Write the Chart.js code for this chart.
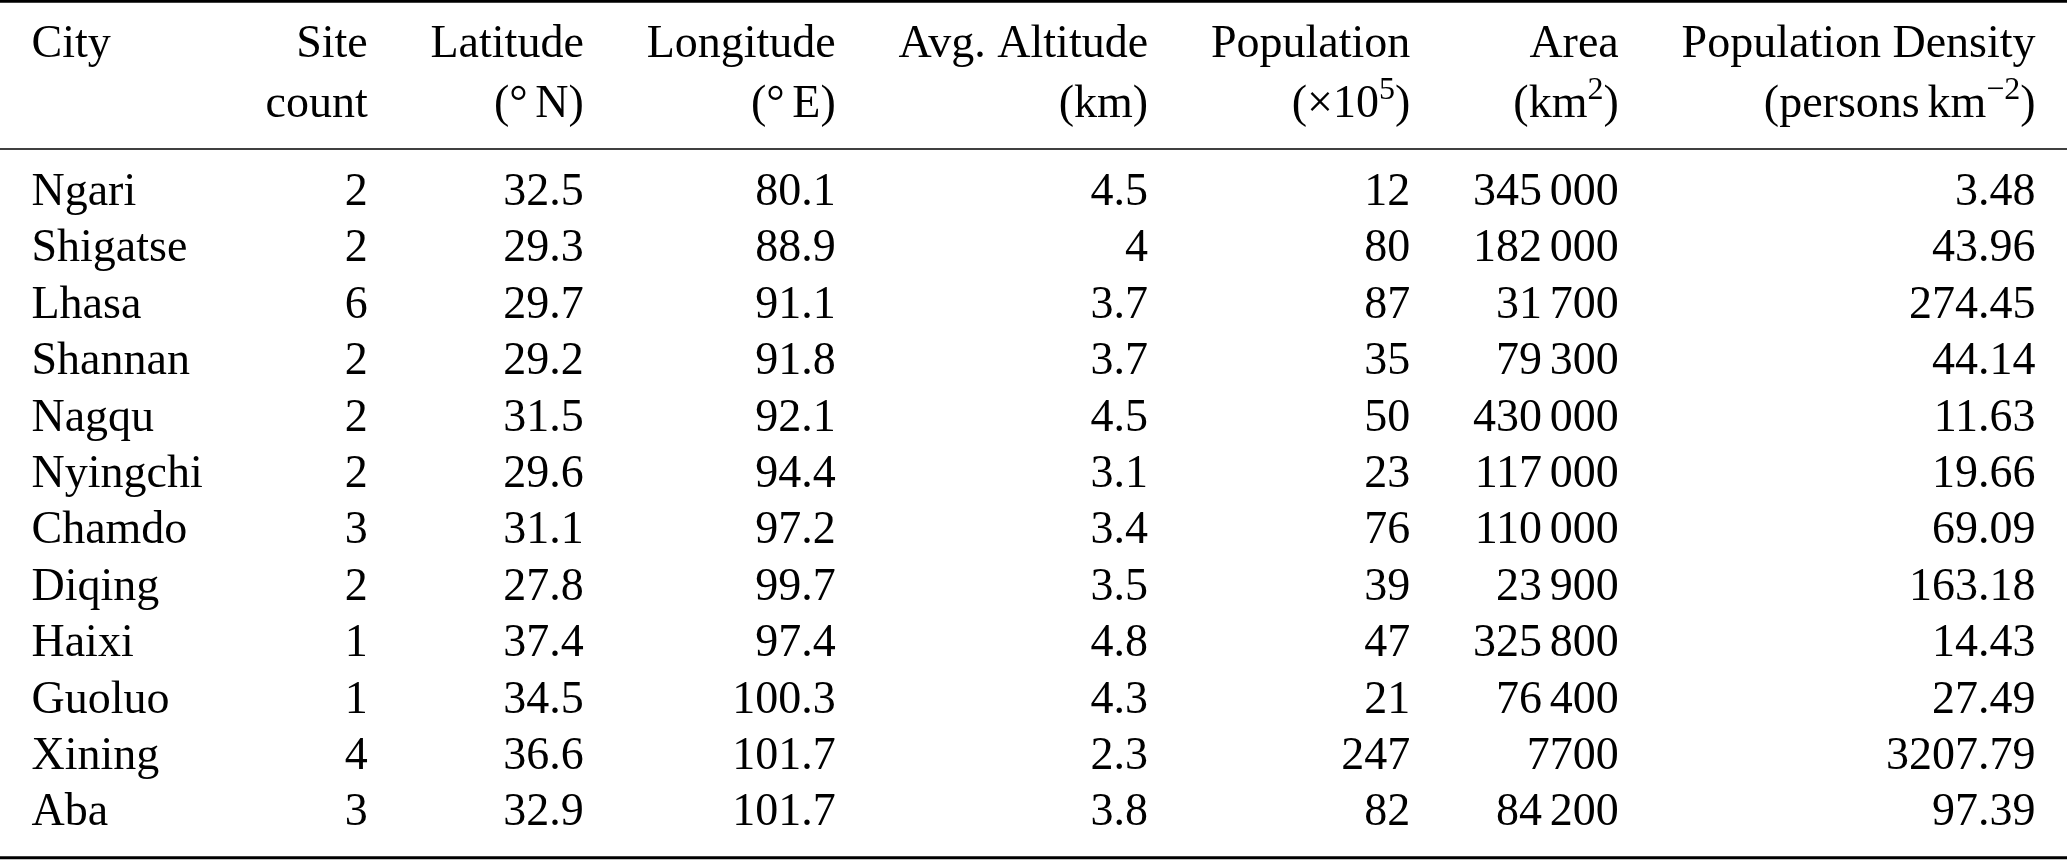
<!DOCTYPE html>
<html>
<head>
<meta charset="utf-8">
<script src="https://cdn.jsdelivr.net/npm/chart.js@4"></script>
<style>
  html, body { margin: 0; background: #fff; }
  #wrap { width: 2067px; height: 860px; position: relative; }
</style>
</head>
<body>
<div id="wrap"><canvas id="table"></canvas></div>
<script>
const cities = ['Ngari', 'Shigatse', 'Lhasa', 'Shannan', 'Nagqu', 'Nyingchi', 'Chamdo', 'Diqing', 'Haixi', 'Guoluo', 'Xining', 'Aba'];
const siteCount = [2, 2, 6, 2, 2, 2, 3, 2, 1, 1, 4, 3];
const latitude = [32.5, 29.3, 29.7, 29.2, 31.5, 29.6, 31.1, 27.8, 37.4, 34.5, 36.6, 32.9];
const longitude = [80.1, 88.9, 91.1, 91.8, 92.1, 94.4, 97.2, 99.7, 97.4, 100.3, 101.7, 101.7];
const altitude = [4.5, 4, 3.7, 3.7, 4.5, 3.1, 3.4, 3.5, 4.8, 4.3, 2.3, 3.8];
const population = [12, 80, 87, 35, 50, 23, 76, 39, 47, 21, 247, 82];
const area = [345000, 182000, 31700, 79300, 430000, 117000, 110000, 23900, 325800, 76400, 7700, 84200];
const density = [3.48, 43.96, 274.45, 44.14, 11.63, 19.66, 69.09, 163.18, 14.43, 27.49, 3207.79, 97.39];

// header lines, ^{..} marks a superscript, \u2009 is a thin space
const headTop = ['City', 'Site', 'Latitude', 'Longitude', 'Avg. Altitude', 'Population', 'Area', 'Population Density'];
const headBottom = ['', 'count', '(°\u2009N)', '(°\u2009E)', '(km)', '(×10^{5})', '(km^{2})', '(persons\u2009km^{\u22122})'];

const fmtArea = v => v >= 10000 ? String(v).replace(/\B(?=(\d{3})+(?!\d))/g, '\u2009') : String(v);
const columns = [
  cities,
  siteCount.map(String),
  latitude.map(String),
  longitude.map(String),
  altitude.map(String),
  population.map(String),
  area.map(fmtArea),
  density.map(v => v.toFixed(2))
];

const FONT_SIZE = 46;
const SUP_SIZE = Math.round(FONT_SIZE * 0.7);
const FAMILY = '"Liberation Serif", "Times New Roman", serif';
const FONT = FONT_SIZE + 'px ' + FAMILY;
const SUP_FONT = SUP_SIZE + 'px ' + FAMILY;

// row units on the y scale: body rows sit on 0..11
const headRows = [-2.624, -1.56];
const rules = [{ y: -3.61, w: 2.6 }, { y: -0.993, w: 1.6 }, { y: 11.575, w: 3 }];

function parseRich(s) {
  const out = [];
  const re = /\^\{([^}]*)\}/g;
  let last = 0, m;
  while ((m = re.exec(s))) {
    if (m.index > last) out.push({ t: s.slice(last, m.index), sup: false });
    out.push({ t: m[1], sup: true });
    last = re.lastIndex;
  }
  if (last < s.length) out.push({ t: s.slice(last), sup: false });
  return out;
}

// walk the pieces of a rich string; thin spaces are a fixed sixth of an em
function walkRich(ctx, s, fn) {
  let x = 0;
  parseRich(s).forEach(seg => {
    const size = seg.sup ? SUP_SIZE : FONT_SIZE;
    ctx.font = seg.sup ? SUP_FONT : FONT;
    seg.t.split('\u2009').forEach((piece, i) => {
      if (i > 0) x += size / 6;
      if (fn) fn(piece, x, seg.sup);
      x += ctx.measureText(piece).width;
    });
  });
  ctx.font = FONT;
  return x;
}

const richWidth = (ctx, s) => walkRich(ctx, s);

function drawRich(ctx, s, x0, y) {
  walkRich(ctx, s, (piece, dx, sup) => {
    ctx.fillText(piece, x0 + dx, sup ? y - FONT_SIZE * 0.4 : y);
  });
}

const tablePlugin = {
  id: 'table',
  afterDraw(chart) {
    const ctx = chart.ctx;
    const xs = chart.scales.x, ys = chart.scales.y;
    const area = chart.chartArea;
    ctx.save();
    ctx.fillStyle = '#000';
    ctx.strokeStyle = '#000';
    ctx.textBaseline = 'alphabetic';
    ctx.textAlign = 'left';
    ctx.font = FONT;

    // column widths from their content, spare room shared between the gaps
    const widths = columns.map((col, c) => Math.max(
      richWidth(ctx, headTop[c]), richWidth(ctx, headBottom[c]),
      ...col.map(s => richWidth(ctx, s))));
    const left = xs.getPixelForValue(0), right = xs.getPixelForValue(1);
    const gap = (right - left - widths.reduce((a, b) => a + b, 0)) / (widths.length - 1);
    const edges = [];
    let cur = left;
    widths.forEach(w => { edges.push([cur, cur + w]); cur += w + gap; });

    const cell = (s, c, py) => {
      if (c === 0) drawRich(ctx, s, edges[c][0], py);
      else drawRich(ctx, s, edges[c][1] - richWidth(ctx, s), py);
    };

    headTop.forEach((s, c) => cell(s, c, ys.getPixelForValue(headRows[0])));
    headBottom.forEach((s, c) => cell(s, c, ys.getPixelForValue(headRows[1])));
    columns.forEach((col, c) => col.forEach((s, r) => cell(s, c, ys.getPixelForValue(r))));

    rules.forEach(rl => {
      const py = ys.getPixelForValue(rl.y);
      ctx.lineWidth = rl.w;
      ctx.beginPath();
      ctx.moveTo(area.left, py);
      ctx.lineTo(area.right, py);
      ctx.stroke();
    });
    ctx.restore();
  }
};

new Chart(document.getElementById('table').getContext('2d'), {
  type: 'scatter',
  data: { datasets: [] },
  options: {
    responsive: true,
    maintainAspectRatio: false,
    devicePixelRatio: 1,
    animation: false,
    layout: { padding: 0 },
    plugins: { legend: { display: false }, tooltip: { enabled: false } },
    scales: {
      x: { type: 'linear', min: -0.0157, max: 1.0157, display: false },
      y: { type: 'linear', reverse: true, min: -3.635, max: 11.613, display: false }
    }
  },
  plugins: [tablePlugin]
});
</script>
</body>
</html>
